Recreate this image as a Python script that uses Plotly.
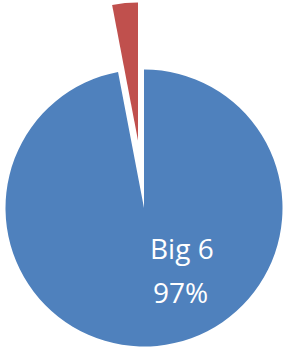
import plotly.graph_objects as go

labels = ["Big 6", "Other"]
values = [97, 3]
colors = ["#4F81BD", "#C0504D"]

W, H = 285, 350
transparent = "rgba(0,0,0,0)"

pct = round(100 * values[0] / sum(values))

fig = go.Figure()

# main (blue) slice
fig.add_trace(go.Pie(
    labels=labels, values=values,
    marker=dict(colors=[colors[0], transparent], line=dict(width=0)),
    direction="clockwise", sort=False, rotation=0,
    textinfo="none", hoverinfo="label+percent", showlegend=False,
    domain=dict(x=[5.5 / W, 282.5 / W], y=[1 - 346.5 / H, 1 - 69.5 / H]),
))

# exploded (red) slice
fig.add_trace(go.Pie(
    labels=labels, values=values,
    marker=dict(colors=[transparent, colors[1]], line=dict(width=0)),
    direction="clockwise", sort=False, rotation=0,
    textinfo="none", hoverinfo="label+percent", showlegend=False,
    domain=dict(x=[0, 276 / W], y=[1 - 278.5 / H, 1 - 2.5 / H]),
))

font = dict(family="Open Sans, Noto Sans, sans-serif", size=28, color="white")
fig.add_annotation(x=181.5 / W, y=1 - 247.5 / H, xref="paper", yref="paper",
                   text=labels[0], showarrow=False, font=font,
                   xanchor="center", yanchor="middle")
fig.add_annotation(x=180 / W, y=1 - 291.5 / H, xref="paper", yref="paper",
                   text=f"{pct}%", showarrow=False, font=font,
                   xanchor="center", yanchor="middle")

fig.update_layout(
    width=W, height=H,
    margin=dict(l=0, r=0, t=0, b=0),
    paper_bgcolor="white", plot_bgcolor="white",
)

fig.write_html("out.html", config={"displayModeBar": False},
               post_script="document.body.style.margin='0';")
